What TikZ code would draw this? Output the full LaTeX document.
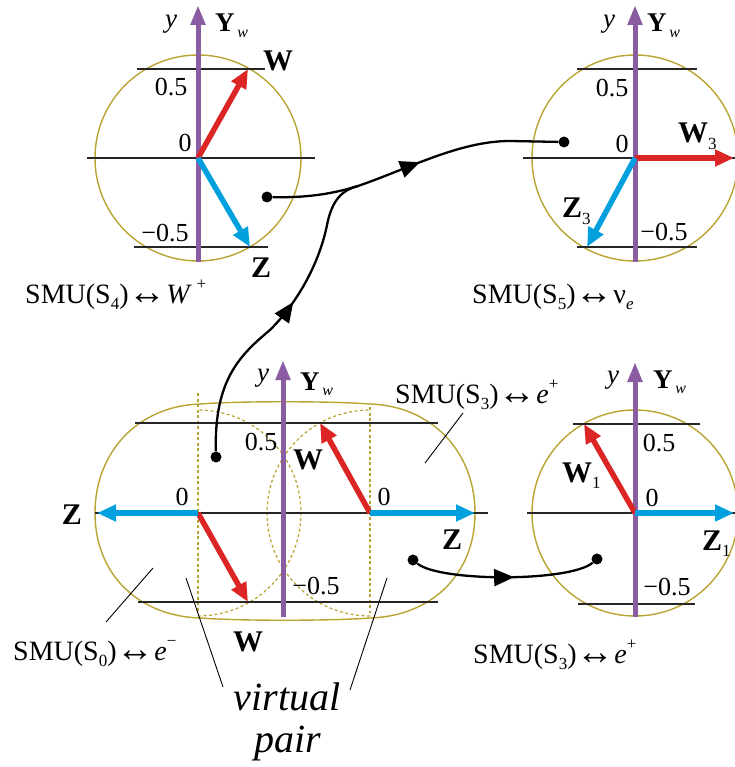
\documentclass[tikz,border=0pt]{standalone}
\usepackage{fontspec}
\setmainfont{Liberation Serif}
\usepackage{graphicx}
\usetikzlibrary{arrows.meta,decorations.markings}
\definecolor{gold}{RGB}{184,164,48}
\definecolor{vio}{RGB}{138,92,162}
\definecolor{vred}{RGB}{220,38,38}
\definecolor{vblue}{RGB}{0,160,222}
\newcommand\myarr{\raisebox{-0.04em}{\scalebox{1.35}[1.35]{↔}}}
\newcommand\mysub[1]{\raisebox{-0.22em}{\fontsize{17}{17}\selectfont #1}}
\newcommand\mysup[1]{\raisebox{0.5em}{\fontsize{17}{17}\selectfont #1}}
\newcommand\yw{Y\raisebox{-0.22em}{\fontsize{16}{16}\selectfont\mdseries\itshape\,w}}
\begin{document}
\begin{tikzpicture}[x=1pt,y=-1pt,
  circ/.style={draw=gold, line width=1.4pt},
  dotc/.style={draw=gold, line width=1.2pt, dash pattern=on 3pt off 2.5pt},
  hl/.style={draw=black!85, line width=1.3pt},
  axis/.style={draw=vio, line width=5pt, -{Triangle[length=20pt,width=14pt]}},
  wvec/.style={draw=vred, line width=5.5pt, -{Triangle[length=19pt,width=16pt]}},
  zvec/.style={draw=vblue, line width=5.5pt, -{Triangle[length=19pt,width=16pt]}},
  conn/.style={draw=black, line width=2.3pt},
  midarrow/.style={postaction={decorate}, decoration={markings, mark=at position #1 with {\arrow{Triangle[length=20pt,width=17pt]}}}},
  dotn/.style={circle, fill=black, inner sep=0pt, minimum size=11pt},
  lead/.style={draw=black, line width=0.9pt},
  num/.style={inner sep=0pt, font=\fontsize{26}{26}\selectfont},
  vecl/.style={inner sep=0pt, font=\fontsize{30}{30}\selectfont\bfseries},
  vecb/.style={inner sep=0pt, anchor=base west, font=\fontsize{30}{30}\selectfont\bfseries},
  ylab/.style={inner sep=0pt, font=\fontsize{27}{27}\selectfont\itshape},
  ywlab/.style={inner sep=0pt, anchor=base west, font=\fontsize{27}{27}\selectfont\bfseries},
  smu/.style={inner sep=0pt, anchor=base west, font=\fontsize{28}{28}\selectfont},
  virt/.style={inner sep=0pt, anchor=base, font=\fontsize{40}{42}\selectfont\itshape}]
\useasboundingbox (0,0) rectangle (734,767);

% ---------- top-left: SMU(S4)
\draw[circ] (198,158) circle[radius=103];
\draw[hl] (87,158) -- (315,158);
\draw[hl] (137,69) -- (265,69);
\draw[hl] (134,247) -- (268,247);
\draw[axis] (198,262) -- (198,5);
\draw[wvec] (198,158) -- (248,69);
\draw[zvec] (198,158) -- (250,247);

% ---------- top-right: SMU(S5)
\draw[circ] (635,158) circle[radius=103];
\draw[hl] (523,158) -- (740,158);
\draw[hl] (577,69) -- (697,69);
\draw[hl] (577,247) -- (697,247);
\draw[axis] (635,262) -- (635,5);
\draw[wvec] (635,158) -- (734,158);
\draw[zvec] (635,158) -- (587,247);

% ---------- bottom-right: SMU(S3)
\draw[circ] (635,513) circle[radius=103];
\draw[hl] (527,513) -- (740,513);
\draw[hl] (573,424) -- (700,424);
\draw[hl] (578,604) -- (695,604);
\draw[axis] (635,617) -- (635,362);
\draw[wvec] (635,513) -- (584,424);
\draw[zvec] (635,513) -- (734,513);

% ---------- bottom-left: S0 + virtual pair + S3
\draw[circ] (95,513) .. controls (95,452) and (138,406) .. (200,404)
  .. controls (240,401) and (330,401) .. (370,404)
  .. controls (432,406) and (475,452) .. (475,513)
  .. controls (475,574) and (432,616) .. (370,618)
  .. controls (330,621) and (240,621) .. (200,618)
  .. controls (138,616) and (95,574) .. (95,513) -- cycle;
\draw[dotc] (198,616) arc[start angle=90, end angle=-90, radius=103];
\draw[dotc] (370,616) arc[start angle=90, end angle=270, radius=103];
\draw[dotc] (198,393) -- (198,613);
\draw[dotc] (370,407) -- (370,613);
\draw[hl] (135,423) -- (438,423);
\draw[hl] (138,602) -- (438,602);
\draw[hl] (95,513) -- (488,513);
\draw[axis] (283,617) -- (283,360);
\draw[wvec] (198,513) -- (248,602);
\draw[wvec] (370,513) -- (320,423);
\draw[zvec] (198,513) -- (97,513);
\draw[zvec] (370,513) -- (475,513);

% ---------- labels: top-left
\node[ylab] at (171,24) {y};
\node[ywlab] at (215,32) {\yw};
\node[vecl] at (278,61) {W};
\node[num] at (171,87) {0.5};
\node[num] at (185,143) {0};
\node[num] at (165,233) {−0.5};
\node[vecl] at (261,268) {Z};

% ---------- labels: top-right
\node[ylab] at (609,24) {y};
\node[ywlab] at (647,32) {\yw};
\node[num] at (612,88) {0.5};
\node[num] at (622,144) {0};
\node[vecb] at (678,143) {W\mysub{\mdseries 3}};
\node[vecb] at (562,218) {Z\mysub{\mdseries 3}};
\node[num] at (664,232) {−0.5};

% ---------- labels: bottom-right
\node[ylab] at (613,380) {y};
\node[ywlab] at (653,388) {\yw};
\node[num] at (659,443) {0.5};
\node[num] at (652,498) {0};
\node[vecb] at (562,482) {W\mysub{\mdseries 1}};
\node[vecb] at (702,550) {Z\mysub{\mdseries 1}};
\node[num] at (667,587) {−0.5};

% ---------- labels: bottom-left
\node[ylab] at (263,378) {y};
\node[ywlab] at (300,390) {\yw};
\node[num] at (261,442) {0.5};
\node[vecl] at (308,460) {W};
\node[num] at (182,497) {0};
\node[vecl] at (72,515) {Z};
\node[num] at (316,586) {−0.5};
\node[num] at (384,497) {0};
\node[vecl] at (452,540) {Z};
\node[vecl] at (248,642) {W};

% ---------- SMU labels
\node[smu] at (25,303) {SMU(S\mysub{4})\myarr\textit{W}\,\mysup{+}};
\node[smu] at (472,303) {SMU(S\mysub{5})\myarr ν\mysub{\itshape e}};
\node[smu] at (13,660) {SMU(S\mysub{0})\myarr\textit{e}\mysup{−}};
\node[smu] at (395,403) {SMU(S\mysub{3})\myarr\textit{e}\mysup{+}};
\node[smu] at (473,663) {SMU(S\mysub{3})\myarr\textit{e}\mysup{+}};
\node[virt] at (287,710) {virtual};
\node[virt] at (288,752) {pair};

% ---------- leader lines
\coordinate (l3a) at (463,413); \coordinate (l3b) at (425,463);
\coordinate (l0a) at (106,622); \coordinate (l0b) at (153,568);
\coordinate (lva) at (186,578); \coordinate (lvb) at (223,687);
\coordinate (lwa) at (387,578); \coordinate (lwb) at (350,690);
\draw[lead] (l3a) -- (l3b);
\draw[lead] (l0a) -- (l0b);
\draw[lead] (lva) -- (lvb);
\draw[lead] (lwa) -- (lwb);

% ---------- connectors
\node[dotn] (p1) at (267,197) {};
\node[dotn] (p5) at (564,142) {};
\node[dotn] (p0) at (216,457) {};
\node[dotn] (p3a) at (413,560) {};
\node[dotn] (p3b) at (597,559) {};
\coordinate (m) at (358,186);
\draw[conn] (p1) .. controls (310,198) and (335,193) .. (m);
\draw[conn, midarrow=0.56] (p0) .. controls (214,380) and (240,355) .. (270,330)
  .. controls (300,300) and (320,260) .. (327,225)
  .. controls (332,200) and (342,190) .. (m);
\draw[conn, midarrow=0.32] (m) .. controls (410,168) and (460,141) .. (510,141) -- (p5);
\draw[conn, midarrow=0.55] (p3a) .. controls (440,582) and (570,582) .. (p3b);
\end{tikzpicture}
\end{document}
